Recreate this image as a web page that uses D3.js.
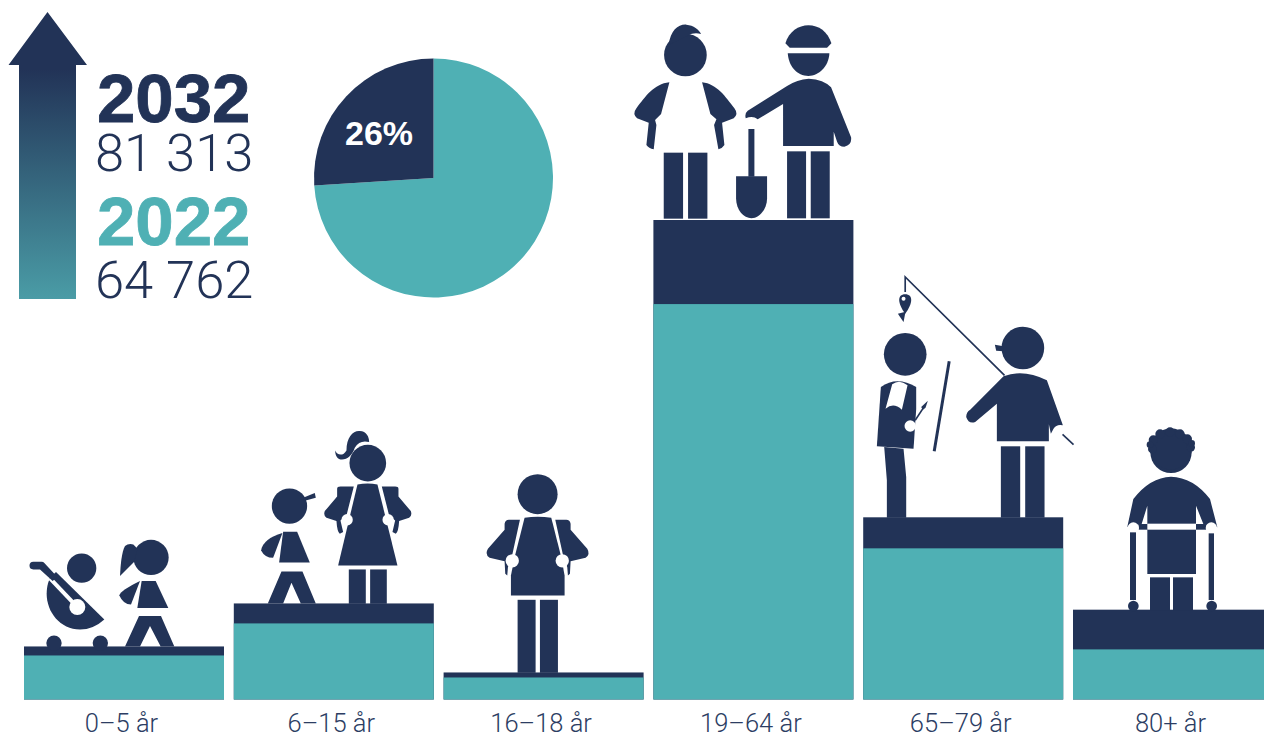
<!DOCTYPE html>
<html lang="sv">
<head>
<meta charset="utf-8">
<title>Befolkning 2022 och 2032</title>
<script src="https://cdn.jsdelivr.net/npm/d3@7"></script>
<style>
html,body{margin:0;padding:0;background:#fff;overflow:hidden}
svg{display:block}
text{font-family:Roboto,"Liberation Sans",sans-serif}
</style>
</head>
<body>
<svg id="chart" width="1264" height="733" viewBox="0 0 1264 733"></svg>
<script>
const categories = ["0–5 år","6–15 år","16–18 år","19–64 år","65–79 år","80+ år"];
const values2022 = [3860,6670,1930,34660,13250,4392];
const values2032 = [4650,8420,2370,42030,15970,7873];
const years = ["2032","2022"];
const totals = ["81 313","64 762"];
const pieValues = [74,26];
const pieLabel = "26%";

const NAVY="#223357", TEAL="#4fb0b4", INK="#2c3d63";
const svg=d3.select("#chart");

const x=d3.scaleBand().domain(categories).range([24,1273]).paddingInner(9.8/209.8).paddingOuter(0);
const y=d3.scaleLinear().domain([0,42030]).range([699.5,220]);

/* ----- bars ----- */
const bars=svg.append("g").selectAll("g").data(categories).join("g");
bars.append("rect").attr("x",d=>x(d)).attr("width",x.bandwidth())
  .attr("y",(d,i)=>y(values2032[i])).attr("height",(d,i)=>y(0)-y(values2032[i])).attr("fill",NAVY);
bars.append("rect").attr("x",d=>x(d)).attr("width",x.bandwidth())
  .attr("y",(d,i)=>y(values2022[i])).attr("height",(d,i)=>y(0)-y(values2022[i])).attr("fill",TEAL);

/* ----- axis ----- */
const axis=svg.append("g").attr("transform","translate(-2.5,699)")
  .call(d3.axisBottom(x).tickSize(0));
axis.select(".domain").remove();
axis.selectAll("text").attr("y",32.5).attr("dy",0)
  .style("font-family","Roboto,sans-serif").style("font-weight",300).style("font-size","25.5px").attr("fill",INK);

/* ----- arrow ----- */
const defs=svg.append("defs");
const grad=defs.append("linearGradient").attr("id","arrowGrad").attr("x1",0).attr("x2",0).attr("y1",0).attr("y2",1)
  .attr("gradientUnits","objectBoundingBox");
grad.append("stop").attr("offset",0.2).attr("stop-color",NAVY);
grad.append("stop").attr("offset",1).attr("stop-color","#4a9ca6");
svg.append("path").attr("d","M47.5 12L87 65H76V299H19V65H8.5Z").attr("fill","url(#arrowGrad)");

/* ----- legend texts ----- */
const legend=svg.append("g");
legend.append("text").text(years[0]).attr("x",97).attr("y",122)
  .style("font-family","'Liberation Sans',sans-serif").style("font-weight",700).style("font-size","69px")
  .attr("fill",NAVY).attr("stroke",NAVY).attr("stroke-width",0.8);
legend.append("text").text(totals[0]).attr("x",95).attr("y",171)
  .style("font-weight",300).style("font-size","52.5px").attr("fill",NAVY);
legend.append("text").text(years[1]).attr("x",97).attr("y",245)
  .style("font-family","'Liberation Sans',sans-serif").style("font-weight",700).style("font-size","69px")
  .attr("fill",TEAL).attr("stroke",TEAL).attr("stroke-width",0.8);
legend.append("text").text(totals[1]).attr("x",95).attr("y",298)
  .style("font-weight",300).style("font-size","52.5px").attr("fill",NAVY);

/* ----- pie ----- */
const pie=d3.pie().sort(null)(pieValues);
const arc=d3.arc().innerRadius(0).outerRadius(119.5);
const pg=svg.append("g").attr("transform","translate(433.5,178)");
pg.selectAll("path").data(pie).join("path").attr("d",arc).attr("fill",(d,i)=>i?NAVY:TEAL);
pg.append("text").text(pieLabel).attr("x",-54.5).attr("y",-33.5).attr("text-anchor","middle")
  .style("font-family","'Liberation Sans',sans-serif").style("font-weight",700).style("font-size","34px").attr("fill","#fff");

/* ----- pictograms: drawn in a 3x local grid and hung on the top of each navy bar ----- */
const W="#fff";
const icons=[
 {bar:0,dx:-24,dy:-226,shapes:[
  ["c",245,443,44],
  ["p","M168 455L313 597Q280 627 240 627C180 627 140 575 140 520C140 498 146 480 152 470Z"],
  ["l","M150 474L232 560",W,12],
  ["c",232,560,24,W],
  ["p","M100 424L125 424Q130 424 133 428L172 470L158 482L120 447L100 447A11.5 11.5 0 0 1 100 424Z"],
  ["c",162,668,23],["c",301,668,23],
  ["c",453,411,53],
  ["p","M360 467C362 430 365 395 375 377Q385 368 400 372Q408 378 412 388L402 425Z"],
  ["p","M425 482L467 482L505 563L412 563Z"],
  ["p","M420 482L393 552Q370 552 358 525Q362 510 420 482Z"],
  ["p","M417 587L483 587L523 678L482 678L450 617L420 678L375 678Z"]
 ]},
 {bar:1,dx:-234,dy:-183,shapes:[
  ["c",869,257,53],
  ["p","M910 232L945 218L948 232L912 242Z"],
  ["p","M850 334L892 334L930 426L838 426Z"],
  ["p","M848 338L820 412Q795 412 784 390Q790 355 848 338Z"],
  ["p","M845 453L908 453L948 549L903 549L875 487L850 549L804 549Z"],
  ["c",1104,128,55],
  ["p","M1040 90C1040 50 1060 30 1080 32C1100 32 1108 50 1108 65C1090 60 1075 65 1065 82C1058 105 1040 120 1022 117C1010 115 1006 100 1006 90C1012 105 1030 108 1040 90Z"],
  ["p","M1073 192Q1104 186 1133 192L1193 435L1015 435Z"],
  ["p","M1012 205Q1012 198 1022 198L1062 198L1040 285L1022 300L1030 335L1020 340Q1012 335 1010 302L980 292Q970 285 975 272L1012 228Z"],
  ["p","M1196 205Q1196 198 1186 198L1146 198L1168 285L1186 300L1178 335L1188 340Q1196 335 1198 302L1228 292Q1238 285 1233 272L1196 228Z"],
  ["c",1042,298,17,W],["c",1165,298,17,W],
  ["r",1047,447,51,103],["r",1111,447,50,103]
 ]},
 {bar:2,dx:-4,dy:-212,shapes:[
  ["c",294,101,60],
  ["p","M255 172Q294 166 335 172L365 290L375 345L375 405L214 405L214 345L225 290Z"],
  ["p","M195 208L195 190Q197 178 208 178L241 178L218 283L205 320L203 345L197 340L195 302L150 292Q135 282 145 265Z"],
  ["p","M393 208L393 190Q391 178 380 178L347 178L370 283L383 320L385 345L391 340L393 302L438 292Q453 282 443 265Z"],
  ["c",218,301,20,W],["c",368,301,20,W],
  ["r",234,418,54,219],["r",301,418,54,219]
 ]},
 {bar:3,dx:-33,dy:-210,shapes:[
  ["c",195,135,64],
  ["p","M145 105C150 60 175 42 198 44C220 46 235 58 242 72C228 68 212 70 205 76Z"],
  ["p","M147 217L122 312L104 330L108 345L100 418Q85 415 78 405L85 338L50 325Q35 312 48 295C75 260 100 222 147 217Z"],
  ["p","M245 217L270 312L288 328L281 345L294 418Q306 415 312 405L305 338L340 325Q355 312 342 295C315 260 290 222 245 217Z"],
  ["r",130,428,58,198],["r",203,428,58,198],
  ["p","M495 100C505 65 535 46 564 46C595 46 622 65 633 100L620 113L508 113Z"],
  ["p","M502 130L627 130C625 170 595 198 564 198C530 198 505 170 502 130Z"],
  ["p","M488 408L488 282L412 328Q400 318 385 322L376 325Q372 310 382 302L500 228Q530 208 565 206Q610 208 632 232L692 382Q695 405 672 410Q655 410 650 395L640 365L640 408Z"],
  ["r",384,357,18,143],
  ["p","M347 499L440 499L440 565C440 600 415 625 393 625C370 625 347 600 347 565Z"],
  ["r",500,424,57,201],["r",571,424,57,201]
 ]},
 {bar:4,dx:-3,dy:-247,shapes:[
  ["c",135,252,64],
  ["p","M62 350Q110 315 168 350L168 415L160 535L50 528Z"],
  ["p","M72 530L130 535L138 620L138 742L80 742L80 630Z"],
  ["p","M96 342Q118 325 142 345L125 418Q100 395 76 415Z",W],
  ["c",150,467,17,W],
  ["l","M165 450L190 412",NAVY,5],
  ["p","M183 410L203 391L196 412L188 418Z"],
  ["l","M267 273L222 543",NAVY,9],
  ["c",488,233,64],
  ["p","M404 223L430 228L430 243L408 241Z"],
  ["p","M410 513L410 400L345 455Q325 462 318 440Q318 425 330 418L430 318Q490 295 560 330L608 465Q590 460 580 475L572 490L566 462L566 513Z"],
  ["r",422,528,58,214],["r",495,528,58,214],
  ["l","M135 65L135 20L433 315",NAVY,5],
  ["l","M607 492L640 523",NAVY,5],
  ["p","M135 72C160 72 158 100 135 130C112 100 110 72 135 72Z"],
  ["c",130,85,6,W],
  ["p","M113 130L136 124L130 155Z"]
 ]},
 {bar:5,dx:-3,dy:-189,shapes:[
  ["c",303,95,62],
  ["c",303,85,62],
  ["c",250,58,14],["c",270,40,14],["c",300,34,14],["c",330,40,14],["c",352,55,14],["c",362,80,13],["c",247,85,13],["c",240,72,10],["c",365,68,10],
  ["p","M232 460L232 255L215 310L172 318L190 235Q240 170 303 168Q370 170 420 235L442 320L400 310L378 255L378 460Z"],
  ["r",205,310,30,17],["r",375,310,35,17],
  ["r",232,309,146,18,W],
  ["c",190,322,17,W],["c",424,322,17,W],
  ["r",180,335,18,203],["r",416,338,16,200],
  ["c",190,556,16],["c",425,556,16],
  ["r",240,470,60,98],["r",309,470,60,98]
 ]}
];

const ig=svg.append("g");
icons.forEach(ic=>{
  const g=ig.append("g").attr("transform",
    `translate(${x(categories[ic.bar])+ic.dx},${y(values2032[ic.bar])+ic.dy}) scale(${1/3})`);
  ic.shapes.forEach(s=>{
    if(s[0]==="c") g.append("circle").attr("cx",s[1]).attr("cy",s[2]).attr("r",s[3]).attr("fill",s[4]||NAVY);
    if(s[0]==="r") g.append("rect").attr("x",s[1]).attr("y",s[2]).attr("width",s[3]).attr("height",s[4]).attr("fill",s[5]||NAVY);
    if(s[0]==="p") g.append("path").attr("d",s[1]).attr("fill",s[2]||NAVY);
    if(s[0]==="l") g.append("path").attr("d",s[1]).attr("fill","none").attr("stroke",s[2]).attr("stroke-width",s[3]);
  });
});
</script>
</body>
</html>
